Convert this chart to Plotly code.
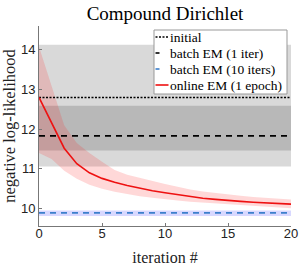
import plotly.graph_objects as go

iters = list(range(21))
online_mean = [12.80, 12.18, 11.52, 11.13, 10.90, 10.76, 10.66, 10.58, 10.51, 10.45, 10.40,
               10.35, 10.30, 10.26, 10.23, 10.20, 10.18, 10.16, 10.14, 10.12, 10.11]
online_upper = [14.08, 13.10, 12.10, 11.65, 11.40, 11.18, 10.97, 10.85, 10.77, 10.69, 10.62,
                10.55, 10.48, 10.43, 10.39, 10.35, 10.32, 10.29, 10.27, 10.25, 10.23]
online_lower = [11.40, 11.25, 10.95, 10.75, 10.60, 10.50, 10.42, 10.36, 10.31, 10.27, 10.23,
                10.20, 10.17, 10.15, 10.12, 10.10, 10.08, 10.06, 10.04, 10.03, 10.01]

initial_mean, initial_lo, initial_hi = 12.80, 11.06, 14.13
batch1_mean, batch1_lo, batch1_hi = 11.83, 11.46, 12.59
batch10_mean, batch10_lo, batch10_hi = 9.89, 9.81, 9.95

legend_labels = ["initial", "batch EM (1 iter)", "batch EM (10 iters)", "online EM (1 epoch)"]

x_span = [0, 20]

serif = "Liberation Serif, DejaVu Serif, serif"
sans = "Liberation Sans, Arial, sans-serif"

W, H = 299, 266
ML, MR, MT, MB = 39, 8, 26, 40
PW, PH = W - ML - MR, H - MT - MB

def px_x(px):
    return (px - ML) / PW

def px_y(py):
    return (H - MB - py) / PH

fig = go.Figure()

def band(lo, hi, color):
    fig.add_trace(go.Scatter(
        x=[x_span[0], x_span[1], x_span[1], x_span[0], x_span[0]],
        y=[lo, lo, hi, hi, lo], fill="toself", fillcolor=color,
        line=dict(width=0), mode="lines", showlegend=False, hoverinfo="skip"))

band(initial_lo, initial_hi, "rgba(0,0,0,0.15)")
band(batch1_lo, batch1_hi, "rgba(0,0,0,0.15)")
band(batch10_lo, batch10_hi, "rgba(60,60,255,0.2)")

fig.add_trace(go.Scatter(
    x=iters + iters[::-1], y=online_upper + online_lower[::-1],
    fill="toself", fillcolor="rgba(255,40,40,0.18)", line=dict(width=0),
    mode="lines", showlegend=False, hoverinfo="skip"))

line_styles = [
    dict(color="black", width=1.6, dash="2px,1.5px"),
    dict(color="black", width=1.6, dash="6px,5px"),
    dict(color="#3b7fcc", width=1.6, dash="6px,5px"),
    dict(color="#ee1111", width=1.6),
]

fig.add_trace(go.Scatter(x=x_span, y=[initial_mean] * 2, mode="lines",
                         line=line_styles[0], name=legend_labels[0], showlegend=False))
fig.add_trace(go.Scatter(x=x_span, y=[batch1_mean] * 2, mode="lines",
                         line=line_styles[1], name=legend_labels[1], showlegend=False))
fig.add_trace(go.Scatter(x=x_span, y=[batch10_mean] * 2, mode="lines",
                         line=line_styles[2], name=legend_labels[2], showlegend=False))
fig.add_trace(go.Scatter(x=iters, y=online_mean, mode="lines",
                         line=line_styles[3], name=legend_labels[3], showlegend=False))

# compact MATLAB-style legend
shapes = [dict(type="rect", xref="paper", yref="paper",
               x0=px_x(154), x1=px_x(287), y0=px_y(94), y1=px_y(30),
               fillcolor="white", line=dict(color="#999", width=1), layer="above")]
annotations = []
row_y = [37, 53, 69, 85]
sym_len = [13, 4, 4, 13]
for lab, st, ry, sl in zip(legend_labels, line_styles, row_y, sym_len):
    ln = dict(color=st["color"], width=st["width"])
    if sl > 4 and "dash" in st:
        ln["dash"] = st["dash"]
    shapes.append(dict(type="line", xref="paper", yref="paper",
                       x0=px_x(155.5), x1=px_x(155.5 + sl), y0=px_y(ry), y1=px_y(ry),
                       line=ln, layer="above"))
    annotations.append(dict(text=lab, xref="paper", yref="paper", x=px_x(168), y=px_y(ry),
                            xanchor="left", yanchor="middle", showarrow=False,
                            font=dict(family=serif, size=13.5, color="black")))

fig.update_layout(
    width=W, height=H,
    margin=dict(l=ML, r=MR, t=MT, b=MB, autoexpand=False),
    paper_bgcolor="white", plot_bgcolor="white",
    title=dict(text="Compound Dirichlet", x=165 / W, xanchor="center", y=1 - 13 / H, yanchor="middle",
               font=dict(family=serif, size=19, color="black")),
    xaxis=dict(range=[0, 20], tickvals=[0, 5, 10, 15, 20], ticks="inside", ticklen=3,
               showgrid=False, zeroline=False, showline=True, linecolor="#777", linewidth=1,
               tickcolor="#777", tickfont=dict(family=sans, size=13, color="#222"),
               automargin=False, ticklabelstandoff=-5, ticklabeloverflow="allow",
               title=dict(text="iteration #", font=dict(family=serif, size=16, color="#222"), standoff=16)),
    yaxis=dict(range=[9.56, 14.6], tickvals=[10, 11, 12, 13, 14], ticks="inside", ticklen=3,
               showgrid=False, zeroline=False, showline=True, linecolor="#777", linewidth=1,
               tickcolor="#777", tickfont=dict(family=sans, size=13, color="#222"),
               automargin=False, ticklabeloverflow="allow",
               title=dict(text="negative log-likelihood", font=dict(family=serif, size=16.5, color="#222"), standoff=5)),
    shapes=shapes,
    annotations=annotations,
    showlegend=False,
)

fig.write_html("out.html", config={"displayModeBar": False},
               post_script="document.body.style.margin='0px';document.body.style.overflow='hidden';")
